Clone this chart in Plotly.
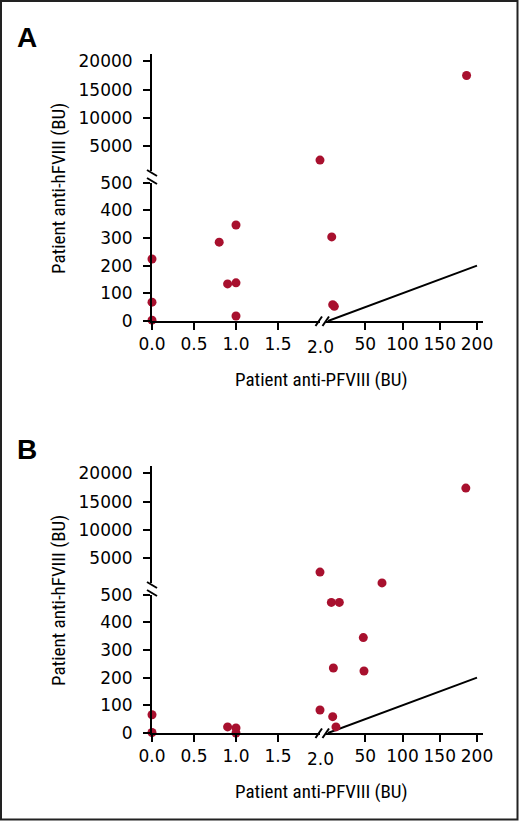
import plotly.graph_objects as go

W, H = 520, 822

# panel A: patient anti-PFVIII vs anti-hFVIII (BU)
a_x = [0, 0, 0, 0.8, 0.9, 1.0, 1.0, 1.0, 2.0, 5.0, 6.3, 8.5, 186]
a_y = [224, 68, 3, 285, 134, 347, 138, 18, 2500, 304, 59, 53, 17500]

# panel B
b_x = [0, 0, 0.9, 1.0, 1.0, 2.0, 2.0, 4.5, 15.2, 72.5, 47.4, 48.3, 7.2, 6.3, 10.7, 185]
b_y = [66, 2, 22, 18, 0, 2500, 83, 472, 472, 580, 345, 224, 235, 59, 22, 17400]

# line of identity
ident_x = [0, 200]
ident_y = [0, 200]

x_lo_ticks = [0, 0.5, 1.0, 1.5]
x_lo_text = ["0.0", "0.5", "1.0", "1.5"]
x_hi_ticks = [50, 100, 150, 200]
y_lo_ticks = [0, 100, 200, 300, 400, 500]
y_hi_ticks = [5000, 10000, 15000, 20000]

X_BREAK = 2.0
Y_BREAK = 500

RED = "#a8102e"
TICK_FONT = dict(family="DejaVu Sans", size=17, color="black")
TITLE_FONT = dict(family="Liberation Sans Narrow, Roboto Condensed, Liberation Sans, Arial",
                  size=19, color="black")


def fx(px):
    return px / W


def fy(py):
    return 1 - py / H


fig = go.Figure()
shapes = []
annotations = []

axis_common = dict(showgrid=False, zeroline=False, showline=True, linecolor="black",
                   linewidth=2, ticks="outside", ticklen=7, tickwidth=2, tickcolor="black",
                   tickfont=TICK_FONT, fixedrange=True, automargin=False, tickformat="d")

for p, (xs, ys, label) in enumerate([(a_x, a_y, "A"), (b_x, b_y, "B")]):
    off = 412 * p
    n = 4 * p
    xa1, xa2, ya1, ya2 = (f"x{n + 1 if n else ''}", f"x{n + 2}",
                          f"y{n + 1 if n else ''}", f"y{n + 2}")
    k1 = "xaxis" + (str(n + 1) if n else "")
    k2 = "xaxis" + str(n + 2)
    k3 = "yaxis" + (str(n + 1) if n else "")
    k4 = "yaxis" + str(n + 2)

    fig.update_layout({
        k1: dict(axis_common, domain=[fx(152), fx(320)], range=[0, 2.0],
                 anchor=ya1, tickvals=x_lo_ticks, ticktext=x_lo_text),
        k2: dict(axis_common, domain=[fx(326), fx(483)],
                 range=[(326 - 328) / 0.745, (483 - 328) / 0.745],
                 anchor=ya1, tickvals=x_hi_ticks),
        k3: dict(axis_common, domain=[fy(321 + off), fy(182.7 + off)], range=[0, 500],
                 anchor=xa1, tickvals=y_lo_ticks, ticklabelstandoff=7),
        k4: dict(axis_common, domain=[fy(171 + off), fy(54 + off)],
                 range=[(174.2 - 171) / 0.00564, (174.2 - 54) / 0.00564],
                 anchor=xa1, tickvals=y_hi_ticks, ticklabelstandoff=7),
    })

    # identity line in the right-hand x segment
    fig.add_trace(go.Scatter(x=ident_x, y=ident_y, mode="lines", xaxis=xa2, yaxis=ya1,
                             line=dict(color="black", width=2), hoverinfo="skip",
                             showlegend=False))

    for xax, in_x in ((xa1, lambda v: v <= X_BREAK), (xa2, lambda v: v > X_BREAK)):
        for yax, in_y in ((ya1, lambda v: v <= Y_BREAK), (ya2, lambda v: v > Y_BREAK)):
            pts = [(x, y) for x, y in zip(xs, ys) if in_x(x) and in_y(y)]
            if not pts:
                continue
            fig.add_trace(go.Scatter(x=[q[0] for q in pts], y=[q[1] for q in pts],
                                     mode="markers", xaxis=xax, yaxis=yax,
                                     marker=dict(color=RED, size=9),
                                     cliponaxis=False, showlegend=False))

    # break marks
    for x0, y0, x1, y1 in [(147, 170, 157, 176), (147, 178, 157, 184)]:
        shapes.append(dict(type="line", xref="paper", yref="paper",
                           x0=fx(x0), y0=fy(y0 + off), x1=fx(x1), y1=fy(y1 + off),
                           line=dict(color="black", width=2)))
    for x0, y0, x1, y1 in [(315.5, 326, 322, 316.5), (322.5, 326, 329, 316.5)]:
        shapes.append(dict(type="line", xref="paper", yref="paper",
                           x0=fx(x0), y0=fy(y0 + off), x1=fx(x1), y1=fy(y1 + off),
                           line=dict(color="black", width=2)))

    annotations += [
        dict(text="2.0", x=fx(320), y=fy(347 + off), font=TICK_FONT),
        dict(text="Patient anti-PFVIII (BU)", x=fx(321), y=fy(379 + off), font=TITLE_FONT),
        dict(text="Patient anti-hFVIII (BU)", x=fx(58), y=fy(189 + off), font=TITLE_FONT,
             textangle=-90),
        dict(text=f"<b>{label}</b>", x=fx(27), y=fy(37 + off),
             font=dict(family="Liberation Sans", size=28, color="black")),
    ]

for a in annotations:
    a.update(xref="paper", yref="paper", showarrow=False, xanchor="center", yanchor="middle")

# outer frame
shapes.append(dict(type="rect", xref="paper", yref="paper", x0=fx(1), y0=fy(819.5),
                   x1=fx(517.5), y1=fy(1), line=dict(color="#222222", width=2)))

fig.update_layout(width=W, height=H, autosize=False,
                  margin=dict(l=0, r=0, t=0, b=0),
                  paper_bgcolor="white", plot_bgcolor="white",
                  shapes=shapes, annotations=annotations, showlegend=False)

fig.write_html("out.html", config={"displayModeBar": False},
               post_script="document.body.style.margin = '0';")
